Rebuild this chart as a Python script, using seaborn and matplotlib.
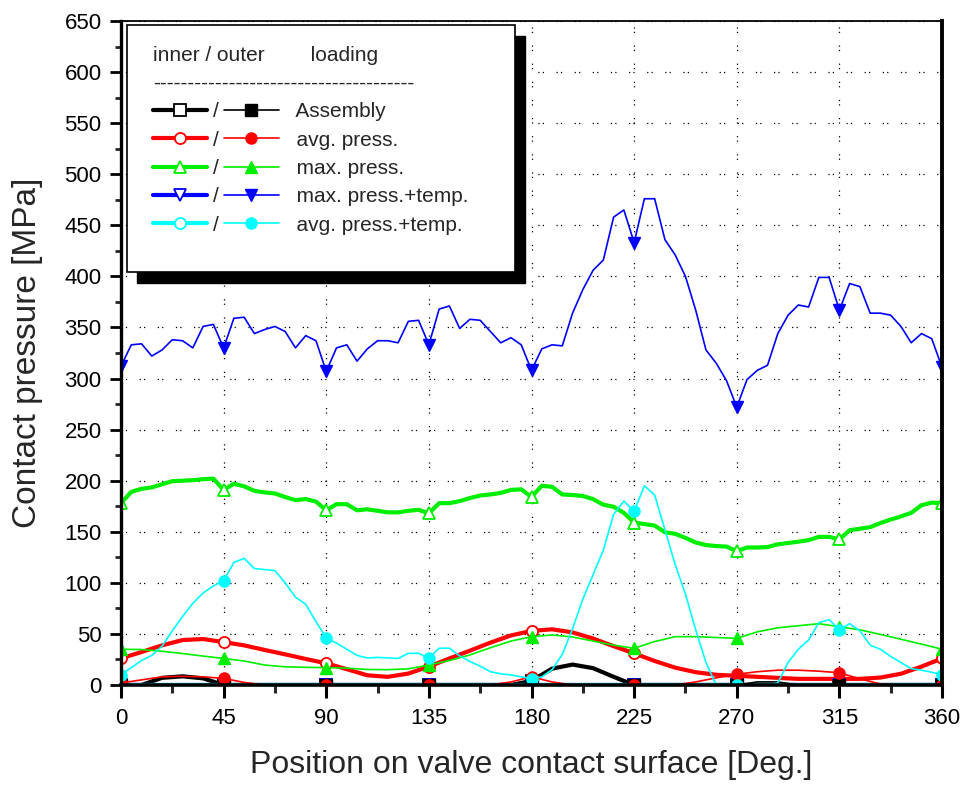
import matplotlib
matplotlib.use("Agg")
import matplotlib.pyplot as plt
import seaborn as sns
from matplotlib.patches import Rectangle
from matplotlib.ticker import MultipleLocator

# ---------------- data ----------------
angle_fine = [0, 4.5, 9, 13.5, 18, 22.5, 27, 31.5, 36, 40.5,
              45, 49.5, 54, 58.5, 63, 67.5, 72, 76.5, 81, 85.5,
              90, 94.5, 99, 103.5, 108, 112.5, 117, 121.5, 126, 130.5,
              135, 139.5, 144, 148.5, 153, 157.5, 162, 166.5, 171, 175.5,
              180, 184.5, 189, 193.5, 198, 202.5, 207, 211.5, 216, 220.5,
              225, 229.5, 234, 238.5, 243, 247.5, 252, 256.5, 261, 265.5,
              270, 274.5, 279, 283.5, 288, 292.5, 297, 301.5, 306, 310.5,
              315, 319.5, 324, 328.5, 333, 337.5, 342, 346.5, 351, 355.5,
              360]

angle_coarse = [0, 9, 18, 27, 36, 45, 54, 63, 72, 81,
                90, 99, 108, 117, 126, 135, 144, 153, 162, 171,
                180, 189, 198, 207, 216, 225, 234, 243, 252, 261,
                270, 279, 288, 297, 306, 315, 324, 333, 342, 351,
                360]

# max. press.+temp. (outer, filled) - fine grid
maxtemp_outer = [312, 333, 334, 322, 328, 338, 337, 330, 351, 353,
                 330, 359, 360, 344, 348, 351, 346, 330, 342, 337,
                 307, 330, 333, 317, 329, 337, 337, 335, 356, 357,
                 333, 368, 371, 349, 358, 357, 346, 335, 340, 333,
                 308, 329, 333, 332, 364, 387, 406, 416, 458, 465,
                 433, 476, 476, 436, 421, 400, 367, 328, 315, 298,
                 272, 299, 308, 313, 344, 362, 372, 370, 399, 399,
                 367, 393, 390, 364, 364, 362, 351, 335, 344, 339,
                 311]

# avg. press.+temp. (outer, filled) - fine grid
avgtemp_outer = [10, 17, 24, 29, 38, 53, 67, 80, 90, 97,
                 102, 120, 124, 114, 113, 112, 100, 86, 79, 62,
                 46, 41, 35, 29, 26.5, 27, 26.5, 26, 31, 31,
                 26, 36, 36, 28.5, 23, 18.5, 13, 11, 9.8, 8,
                 6, 8, 15, 30, 55, 84, 108, 132, 167, 180,
                 170, 195, 186, 152, 118, 89, 54, 22, 0, 0,
                 0, 0, 0, 0, 2, 22, 35, 44, 61, 64,
                 54, 60, 53, 39, 35, 28, 22, 16, 14.5, 12.5,
                 10]

# max. press. (inner, hollow) - fine grid
max_inner = [178, 189, 192, 193.5, 196.5, 199.5, 200, 200.5, 201.5, 202,
             191, 197, 194.5, 190, 188.5, 187.5, 184, 181, 182, 179.5,
             171, 177, 177, 171, 172, 170.5, 169, 169, 170.5, 171.5,
             168, 178, 178, 180, 183, 185.5, 186.5, 188, 191, 191.5,
             184, 195, 194, 186.5, 186, 185, 182, 176.5, 174.5, 168.5,
             159, 157.5, 156, 149.5, 148, 144, 139.5, 137, 136, 135.5,
             131, 134.6, 134.6, 135, 137.7, 139, 140.3, 141.8, 145, 145,
             142.5, 151.5, 153, 154.5, 158.5, 162, 165, 168.5, 176, 178.5,
             178]

# max. press. (outer, filled) - coarse grid
max_outer = [35, 34.7, 33, 30.8, 28.3, 26, 23.5, 19.5, 17.8, 17.3,
             17, 16.5, 15.2, 15, 15.8, 19.6, 24, 29.4, 36.5, 43,
             47.3, 49, 47, 43, 39, 36, 42.5, 47.3, 47.3, 46.5,
             45.7, 52, 56, 58, 60, 57, 54, 49.5, 44.8, 40,
             35]

# avg. press. (inner, hollow) - coarse grid
avg_inner = [26, 32.3, 38.8, 44, 45, 42, 38.8, 34.3, 30, 25.5,
             21.2, 15.5, 9.5, 8, 11.2, 18, 26, 33.6, 41.5, 48.5,
             53, 54.5, 51.5, 45.5, 38, 31, 23.5, 17, 12.5, 10,
             9, 8, 7, 6, 6, 6, 6, 7.3, 11, 18,
             26]

# avg. press. (outer, filled) - coarse grid
avg_outer = [2, 5, 8, 8.5, 8, 6.5, 2.5, 0, 0, 0,
             0, 0, 0, 0, 0, 0, 0, 0, 0, 3,
             8, 3, 0, 0, 0, 0, 0, 0, 3, 7,
             10.5, 13, 14.5, 14.5, 13.5, 12, 6, 1, 0, 0,
             0]

# Assembly (inner, hollow) - coarse grid
assembly_inner = [0, 0, 7, 8.5, 6.5, 0, 0, 0, 0, 0,
                  0, 0, 0, 0, 0, 0, 0, 0, 0, 0,
                  4, 16, 20, 16.5, 8, 0, 0, 0, 0, 0,
                  0, 0, 0, 0, 0, 0, 0, 0, 0, 0,
                  0]

# Assembly (outer, filled) - coarse grid
assembly_outer = [0, 0, 0, 0, 0, 0, 0, 0, 0, 0,
                  0, 0, 0, 0, 0, 0, 0, 0, 0, 0,
                  0, 0, 0, 0, 0, 0, 0, 0, 0, 0,
                  0, 3, 3, 0, 0, 0, 0, 0, 0, 0,
                  0]

# max. press.+temp. (inner, hollow) - coarse grid
maxtemp_inner = [0, 0, 0, 0, 0, 0, 0, 0, 0, 0,
                 0, 0, 0, 0, 0, 0, 0, 0, 0, 0,
                 0, 0, 0, 0, 0, 0, 0, 0, 0, 0,
                 0, 0, 0, 0, 0, 0, 0, 0, 0, 0,
                 0]

# avg. press.+temp. (inner, hollow) - coarse grid
avgtemp_inner = [0, 0, 0, 0, 0, 0, 0, 0, 0, 0,
                 0, 0, 0, 0, 0, 0, 0, 0, 0, 0,
                 0, 0, 0, 0, 0, 0, 0, 0, 0, 0,
                 0, 0, 0, 0, 0, 0, 0, 0, 0, 0,
                 0]

load_names = ["Assembly", "avg. press.", "max. press.",
              "max. press.+temp.", "avg. press.+temp."]
x_ticks = [0, 45, 90, 135, 180, 225, 270, 315, 360]

# ---------------- style ----------------
sns.set_style("ticks")
plt.rcParams['font.family'] = ['Liberation Sans', 'DejaVu Sans']

fig = plt.figure(figsize=(9.62, 7.87), dpi=100)
ax = fig.add_axes([0.12578, 0.12961, 0.85343, 0.84371])

colors = ["#000000", "#ff0000", "#00ee00", "#0000ff", "#00ffff"]
markers = ["s", "o", "^", "v", "o"]

inner_sets = [(angle_coarse, assembly_inner), (angle_coarse, avg_inner),
              (angle_fine, max_inner), (angle_coarse, maxtemp_inner),
              (angle_coarse, avgtemp_inner)]
outer_sets = [(angle_coarse, assembly_outer), (angle_coarse, avg_outer),
              (angle_coarse, max_outer), (angle_fine, maxtemp_outer),
              (angle_fine, avgtemp_outer)]

inner_handles, outer_handles = [], []
for i in range(5):
    xs, ys = inner_sets[i]
    every = 10 if len(xs) == len(angle_fine) else 5
    sns.lineplot(x=xs, y=ys, ax=ax, color=colors[i], lw=3.0,
                 marker=markers[i], markersize=8, markevery=every,
                 mfc="white", mec=colors[i], mew=1.3,
                 estimator=None, sort=False, zorder=2.0)
    inner_handles.append(ax.lines[-1])
for i in range(5):
    xs, ys = outer_sets[i]
    every = 10 if len(xs) == len(angle_fine) else 5
    sns.lineplot(x=xs, y=ys, ax=ax, color=colors[i], lw=1.2,
                 marker=markers[i], markersize=8, markevery=every,
                 mfc=colors[i], mec=colors[i], mew=1.0,
                 estimator=None, sort=False, zorder=2.1)
    outer_handles.append(ax.lines[-1])

ax.set_xlim(0, 360)
ax.set_ylim(0, 650)
ax.set_xticks(x_ticks)
ax.xaxis.set_minor_locator(MultipleLocator(22.5))
ax.yaxis.set_major_locator(MultipleLocator(50))
ax.yaxis.set_minor_locator(MultipleLocator(25))

ax.tick_params(axis='x', which='major', direction='out', length=9.5,
               width=2.2, pad=7, labelsize=16, colors='black')
ax.tick_params(axis='x', which='minor', direction='out', length=6, width=2.2)
ax.tick_params(axis='y', which='major', direction='out', length=8,
               width=2, pad=6, labelsize=16, colors='black')
ax.tick_params(axis='y', which='minor', direction='out', length=4, width=2)
ax.tick_params(top=False, right=False, which='both')

for side, lw in [("left", 2.4), ("bottom", 2.6), ("right", 2.8), ("top", 1.3)]:
    ax.spines[side].set_visible(True)
    ax.spines[side].set_linewidth(lw)
    ax.spines[side].set_color("black")
    ax.spines[side].set_zorder(5)

ax.set_axisbelow(True)
ax.grid(True, which='major', color='black', lw=0.9, linestyle=(0, (1, 2.5, 1, 10)))

ax.set_xlabel("Position on valve contact surface [Deg.]", fontsize=23)
ax.set_ylabel("Contact pressure [MPa]", fontsize=24)
ax.xaxis.set_label_coords(0.5, -0.098)
ax.yaxis.set_label_coords(-0.095, 0.5)

# legend box with hard shadow
ax.add_patch(Rectangle((0.0195, 0.6054), 0.4726, 0.372, transform=ax.transAxes,
                       facecolor="black", edgecolor="black", zorder=7))
ax.add_patch(Rectangle((0.0073, 0.622), 0.4726, 0.372, transform=ax.transAxes,
                       facecolor="white", edgecolor="black", lw=1.2, zorder=8))

title = "inner / outer        loading\n" + "-" * 38
leg = ax.legend(handles=inner_handles + outer_handles,
                labels=["/"] * 5 + ["  " + n for n in load_names],
                ncol=2, loc="upper left", bbox_to_anchor=(0.039, 0.9625),
                frameon=False, fontsize=15, handlelength=2.6,
                handletextpad=0.3, columnspacing=0.25, labelspacing=0.45,
                borderpad=0, borderaxespad=0, title=title,
                title_fontsize=15, alignment="left")
leg.get_title().set_linespacing(1.6)
leg.set_zorder(9)

fig.savefig("out.png", dpi=100)
